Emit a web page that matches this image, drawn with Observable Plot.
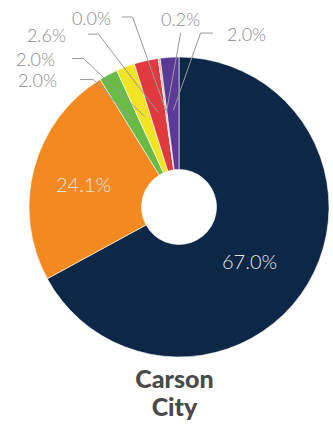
<!DOCTYPE html>
<html><head><meta charset="utf-8">
<script src="https://cdn.jsdelivr.net/npm/d3@7"></script>
<script src="https://cdn.jsdelivr.net/npm/@observablehq/plot@0.6"></script>
<style>
body{margin:0;background:#fff;width:333px;height:427px;overflow:hidden;}
#caption{position:absolute;left:0;top:364px;width:333px;padding-left:16px;box-sizing:border-box;text-align:center;font-family:Lato,"Open Sans",sans-serif;font-weight:900;font-size:25px;line-height:28px;color:#4a4a4a;}
</style></head>
<body><div id="chart"></div><div id="caption"></div>
<script>
// ---- data ----
const segments = ["Segment 1","Segment 2","Segment 3","Segment 4","Segment 5","Segment 6","Segment 7","Segment 8"];
const values = [67.0, 24.1, 2.0, 2.0, 2.6, 0.0, 0.2, 2.0];
const valueLabels = ["67.0%","24.1%","2.0%","2.0%","2.6%","0.0%","0.2%","2.0%"];
const colors = ["#0c2846","#f4891f","#68bc45","#f1e424","#e0393e","#d9d9d9","#f0a27a","#5a3a99"];
const title = ["Carson","City"];

// ---- layout (not data) ----
const innerRatio = 0.25;
const leaderRadius = 0.65;
// label positions in the chart's [-1,1] coordinate space; inside = label drawn on the slice
const labelLayout = [
  {x: 0.467, y: -0.367, inside: true},
  {x: -0.64, y: 0.147, inside: true},
  {x: -0.947, y: 0.84, sx: -0.66, ex: -0.573},
  {x: -0.96, y: 0.98, sx: -0.713, ex: -0.64},
  {x: -0.887, y: 1.143, sx: -0.607, ex: -0.54},
  {x: -0.587, y: 1.257, sx: -0.38, ex: -0.313},
  {x: 0.007, y: 1.247, sx: 0.007, ex: 0.007, vertical: true},
  {x: 0.447, y: 1.15, sx: 0.22, ex: 0.14}
];

const rows = segments.map((s, i) => ({segment: s, value: values[i], label: valueLabels[i], ...labelLayout[i]}));
const arcs = d3.pie().sort(null).value(d => d.value)(rows);
const color = Plot.scale({color: {type: "ordinal", domain: segments, range: colors}});

// leader lines
const leaders = [];
arcs.forEach(a => {
  const d = a.data;
  if (d.inside) return;
  const mid = (a.startAngle + a.endAngle) / 2;
  const ly = d.y + 0.013;
  leaders.push({segment: d.segment, x: d.sx, y: d.vertical ? d.y - 0.087 : ly});
  if (!d.vertical) leaders.push({segment: d.segment, x: d.ex, y: ly});
  leaders.push({segment: d.segment, x: leaderRadius * Math.sin(mid), y: leaderRadius * Math.cos(mid)});
});

function slices(index, scales) {
  const cx = scales.x(0), cy = scales.y(0), R = scales.x(1) - scales.x(0);
  const arc = d3.arc().innerRadius(R * innerRatio).outerRadius(R);
  const g = d3.create("svg:g").attr("transform", `translate(${cx},${cy})`);
  g.selectAll("path").data(arcs).join("path")
    .attr("d", arc)
    .attr("fill", d => color.apply(d.data.segment))
    .attr("stroke", "#ffffff")
    .attr("stroke-width", 0.6);
  return g.node();
}

const font = "Lato, 'Open Sans', sans-serif";
const chart = Plot.plot({
  width: 333,
  height: 365,
  marginLeft: 29,
  marginRight: 4,
  marginTop: 57,
  marginBottom: 8,
  x: {domain: [-1, 1], axis: null},
  y: {domain: [-1, 1], axis: null},
  marks: [
    slices,
    Plot.line(leaders, {x: "x", y: "y", z: "segment", stroke: "#9a9a9a", strokeWidth: 1}),
    Plot.text(rows.filter(d => d.inside), {x: "x", y: "y", text: "label", fill: "#e4e4e4", fontSize: 20, fontWeight: 300, fontFamily: font, letterSpacing: 0.6}),
    Plot.text(rows.filter(d => !d.inside), {x: "x", y: "y", text: "label", fill: "#8a8a8a", fontSize: 18, fontWeight: 300, fontFamily: font, letterSpacing: 1.3})
  ]
});
document.getElementById("chart").appendChild(chart);
document.getElementById("caption").innerHTML = title.join("<br>");
</script>
</body></html>
